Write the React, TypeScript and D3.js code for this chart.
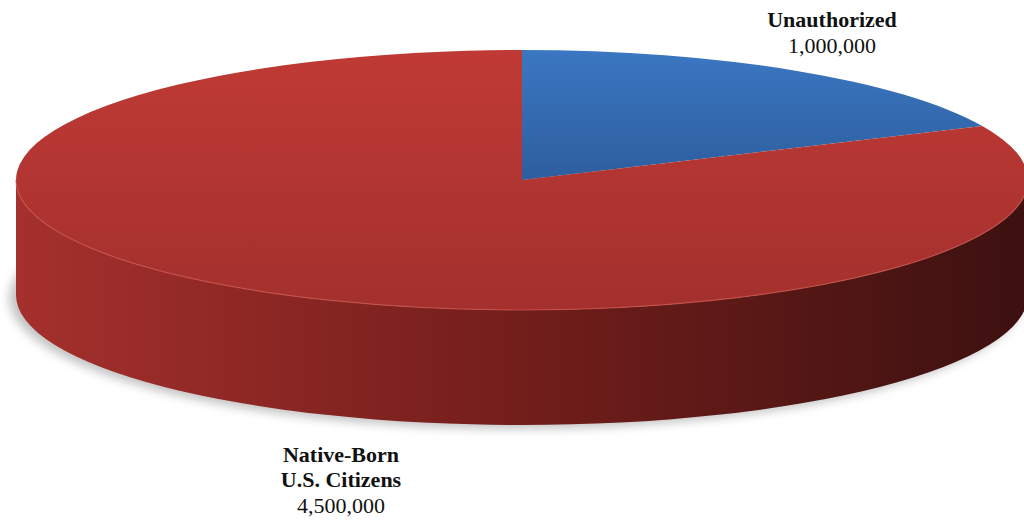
import React from "react";
import * as d3 from "d3";

const categories = ["Unauthorized", "Native-Born U.S. Citizens"];
const values = [1000000, 4500000];
const labelLines = [["Unauthorized"], ["Native-Born", "U.S. Citizens"]];

const W = 1024, H = 521;
const cx = 522, cy = 180, rx = 506, ry = 130, depth = 115;

function pt(a: number, dy = 0): [number, number] {
  return [cx + rx * Math.sin(a), cy - ry * Math.cos(a) + dy];
}

export default function App() {
  const pie = d3.pie<number>().sort(null).value((d) => d);
  const arcs = pie(values);
  const fmt = d3.format(",");

  const topPath = (a0: number, a1: number) => {
    const p0 = pt(a0), p1 = pt(a1);
    const large = a1 - a0 > Math.PI ? 1 : 0;
    return `M${cx},${cy}L${p0[0]},${p0[1]}A${rx},${ry} 0 ${large} 1 ${p1[0]},${p1[1]}Z`;
  };

  const sidePath = (a0: number, a1: number) => {
    const s = Math.max(a0, Math.PI / 2), e = Math.min(a1, (3 * Math.PI) / 2);
    if (e <= s) return null;
    const p0 = pt(s), p1 = pt(e), q1 = pt(e, depth), q0 = pt(s, depth);
    const large = e - s > Math.PI ? 1 : 0;
    return `M${p0[0]},${p0[1]}A${rx},${ry} 0 ${large} 1 ${p1[0]},${p1[1]}L${q1[0]},${q1[1]}A${rx},${ry} 0 ${large} 0 ${q0[0]},${q0[1]}Z`;
  };

  const rim = (() => {
    const p0 = pt(Math.PI / 2), p1 = pt((3 * Math.PI) / 2);
    return `M${p0[0]},${p0[1]}A${rx},${ry} 0 0 1 ${p1[0]},${p1[1]}`;
  })();

  const topFills = ["url(#blueTop)", "url(#redTop)"];

  return (
    <svg width={W} height={H} style={{ position: "absolute", left: 0, top: 0, background: "#fff" }}>
      <defs>
        <linearGradient id="redTop" x1="0" y1="0" x2="0" y2="1" gradientUnits="objectBoundingBox">
          <stop offset="0" stopColor="#c03a35" />
          <stop offset="1" stopColor="#a3302d" />
        </linearGradient>
        <linearGradient id="blueTop" x1="0" y1="0" x2="0" y2="1">
          <stop offset="0" stopColor="#3b77c2" />
          <stop offset="1" stopColor="#2d5e9e" />
        </linearGradient>
        <linearGradient id="redSide" x1="0" y1="0" x2="1" y2="0">
          <stop offset="0" stopColor="#a5302d" />
          <stop offset="0.5" stopColor="#721e1b" />
          <stop offset="1" stopColor="#3c1110" />
        </linearGradient>
        <filter id="shadow" x="-10%" y="-20%" width="120%" height="150%">
          <feGaussianBlur stdDeviation="5" />
        </filter>
      </defs>
      <ellipse cx={cx - 6} cy={cy + depth + 3} rx={rx + 1} ry={ry + 1} fill="#8a8a8a" opacity={0.5} filter="url(#shadow)" />
      {arcs.map((a, i) => {
        const d = sidePath(a.startAngle, a.endAngle);
        return d ? <path key={"s" + i} d={d} fill="url(#redSide)" /> : null;
      })}
      {arcs.map((a, i) => (
        <path key={"t" + i} d={topPath(a.startAngle, a.endAngle)} fill={topFills[i]} />
      ))}
      <path d={rim} fill="none" stroke="#c9514b" strokeWidth={1.2} opacity={0.8} />
      <g fontFamily="'Liberation Serif', 'Times New Roman', serif" fontSize={22} fill="#111" textAnchor="middle">
        <text x={832} y={27} fontWeight="bold">{labelLines[0][0]}</text>
        <text x={832} y={53}>{fmt(values[0])}</text>
        <text x={341} y={462} fontWeight="bold">{labelLines[1][0]}</text>
        <text x={341} y={487} fontWeight="bold">{labelLines[1][1]}</text>
        <text x={341} y={513}>{fmt(values[1])}</text>
      </g>
    </svg>
  );
}
